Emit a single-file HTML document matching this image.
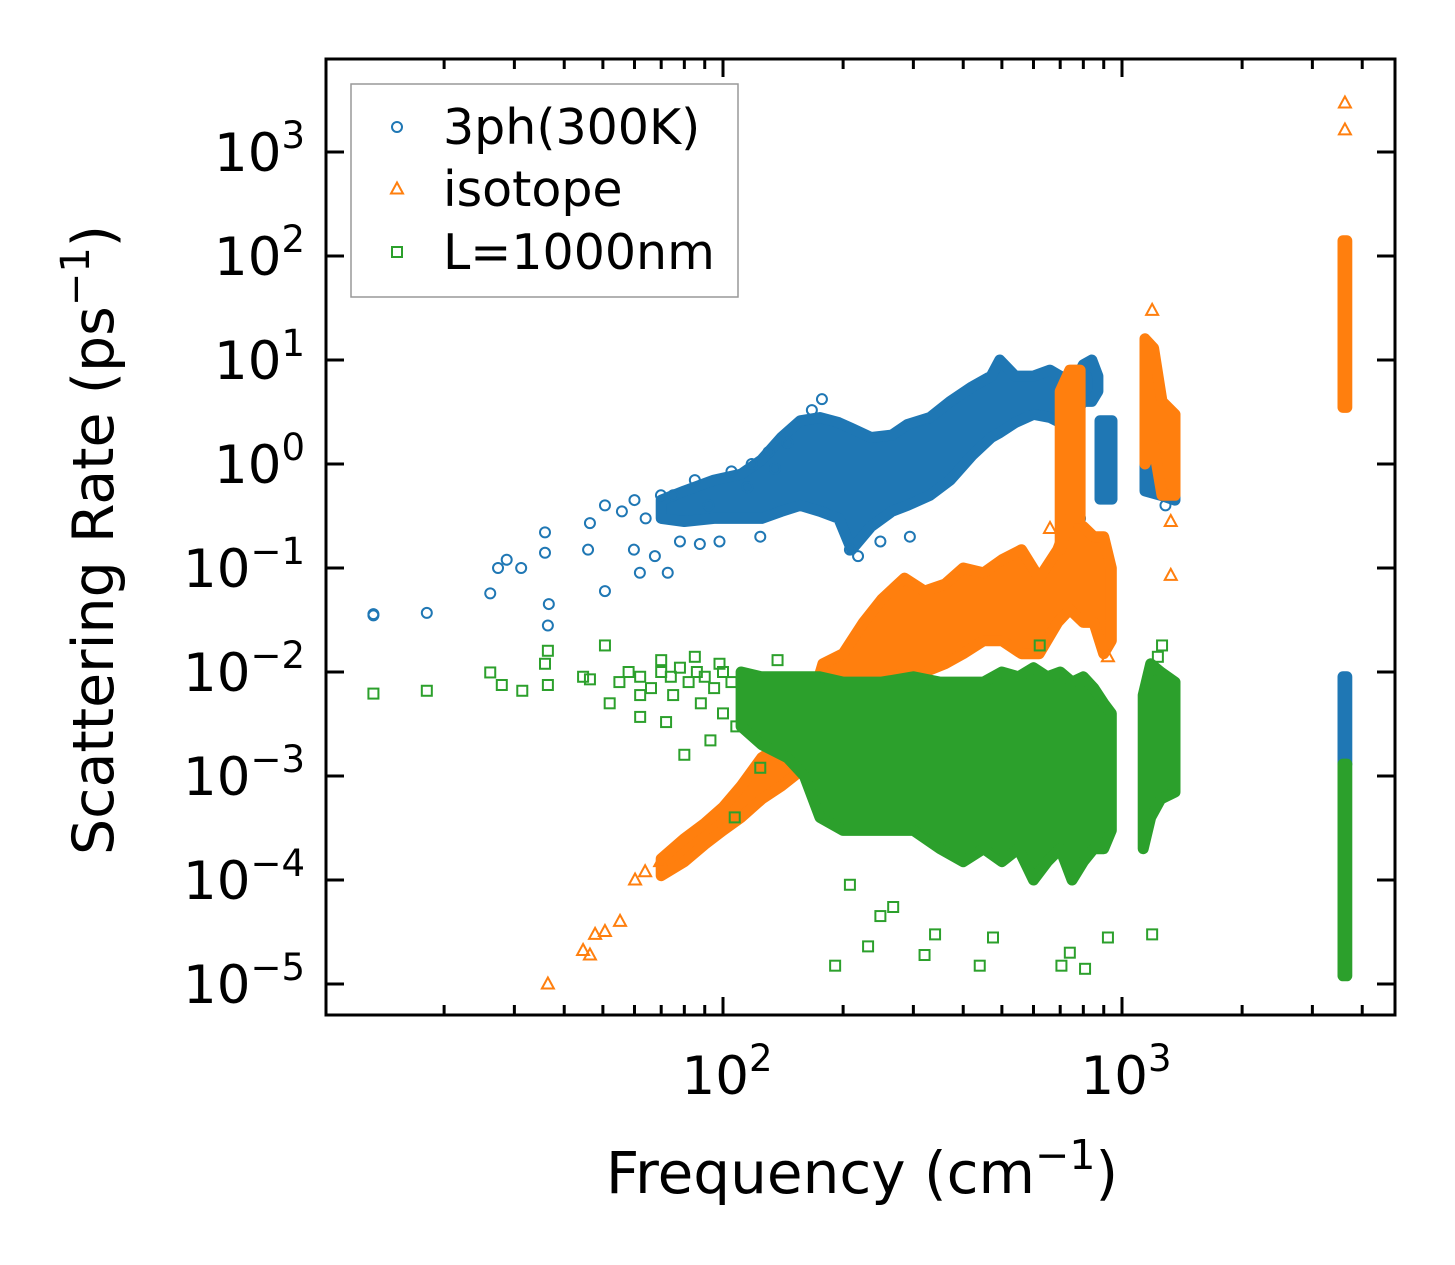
<!DOCTYPE html>
<html><head><meta charset="utf-8">
<style>
html,body{margin:0;padding:0;background:#fff;}
svg{display:block;font-family:"DejaVu Sans","Liberation Sans",sans-serif;}
</style></head>
<body>
<svg id="chart" width="1455" height="1265" viewBox="0 0 1455 1265" xmlns="http://www.w3.org/2000/svg">
<rect x="0" y="0" width="1455" height="1265" fill="#fff"/>
<g id="marks"></g>
<g id="axes"></g>
</svg>
<script>
// ---- data (frequency cm^-1, scattering rate ps^-1) ----
const xTickValues = [100, 1000];
const xTickExps = ["2", "3"];
const yTickExps = [-5, -4, -3, -2, -1, 0, 1, 2, 3];
const seriesNames = ["3ph(300K)", "isotope", "L=1000nm"];

const bluePoints = [[13.3,0.036],[13.3,0.035],[18.1,0.037],[26.1,0.057],[27.3,0.1],[28.7,0.12],[31.2,0.1],[35.8,0.22],[35.8,0.14],[36.6,0.045],[36.4,0.028],[45.9,0.15],[46.4,0.27],[50.6,0.4],[50.6,0.06],[55.8,0.35],[59.8,0.15],[61.9,0.09],[67.5,0.13],[72.7,0.09],[69.9,0.5],[78,0.18],[87.5,0.17],[98,0.18],[124,0.2],[177,4.2],[167,3.3],[208,0.15],[218,0.13],[248,0.18],[294,0.2],[785,0.3],[770,0.4],[1285,0.4],[60,0.45],[64,0.3],[75,0.5],[85,0.7],[92,0.4],[105,0.85],[115,0.6],[118,1.0],[130,1.3],[135,0.9],[145,1.6]];
const blueBands = [
 [[70,0.3,0.45],[80,0.28,0.55],[95,0.3,0.7],[111,0.3,0.8],[125,0.3,1.1],[140,0.35,1.8],[156,0.4,2.6],[175,0.35,2.8],[195,0.3,2.5],[210,0.15,2.2],[235,0.25,1.8],[265,0.35,1.9],[290,0.4,2.4],[330,0.5,2.8],[371,0.7,4],[420,1.2,5.5],[470,1.8,7],[494,2,10],[540,2.5,7],[600,3,7],[660,2.8,8],[700,2.5,7],[760,3,6],[800,4,9],[840,4,10],[870,5,7]],
 [[881,0.46,2.6],[944,0.46,2.6]],
 [[1142,0.55,1.1],[1250,0.5,1.0],[1358,0.45,0.9]],
 [[3580,0.0013,0.009],[3660,0.0013,0.009]]
];

const orangePoints = [[36.4,1e-5],[44.6,2.1e-5],[46.4,1.9e-5],[47.8,3e-5],[50.6,3.2e-5],[55.2,4e-5],[60.2,1e-4],[63.8,1.2e-4],[69.6,1.5e-4],[1190,30],[1325,0.28],[1325,0.085],[922,0.014],[660,0.24],[3620,2960],[3620,1630]];
const orangeBands = [
 [[70,1.1e-4,1.6e-4],[80,1.5e-4,2.5e-4],[90,2.2e-4,3.5e-4],[100,3e-4,5e-4],[111,4e-4,8e-4],[125,6e-4,1.5e-3],[140,8e-4,2e-3],[160,1.2e-3,3e-3],[178,3e-3,0.012],[200,0.005,0.015],[225,0.006,0.03],[250,0.008,0.05],[285,0.01,0.08],[320,0.01,0.06],[360,0.012,0.07],[400,0.015,0.1],[450,0.02,0.09],[500,0.02,0.12],[560,0.015,0.15],[620,0.015,0.08],[690,0.03,0.15],[740,0.04,0.3],[800,0.03,0.25],[850,0.03,0.2],[900,0.015,0.2],[940,0.02,0.1]],
 [[700,0.15,5],[740,0.3,8],[785,0.3,8]],
 [[1142,1,16],[1200,1.5,13],[1260,0.5,4],[1358,0.5,3]],
 [[3580,3.5,140],[3660,3.5,140]]
];

const greenPoints = [[13.3,0.0062],[18.1,0.0066],[26.1,0.0099],[27.9,0.0075],[31.4,0.0066],[35.8,0.012],[36.4,0.016],[36.4,0.0075],[44.6,0.009],[46.4,0.0085],[50.6,0.018],[52,0.005],[62,0.0037],[72,0.0033],[80,0.0016],[93,0.0022],[107,0.0004],[124,0.0012],[191,1.5e-5],[208,9e-5],[231,2.3e-5],[248,4.5e-5],[267,5.5e-5],[320,1.9e-5],[340,3e-5],[440,1.5e-5],[475,2.8e-5],[705,1.5e-5],[808,1.4e-5],[740,2e-5],[922,2.8e-5],[1190,3e-5],[1260,0.018],[1230,0.014],[622,0.018],[137,0.013],[55,0.008],[58,0.01],[62,0.009],[66,0.007],[70,0.01],[74,0.009],[78,0.011],[82,0.008],[86,0.01],[90,0.009],[95,0.007],[100,0.01],[105,0.008],[62,0.006],[75,0.006],[88,0.005],[100,0.004],[108,0.003],[70,0.013],[85,0.014],[98,0.012]];
const greenBands = [
 [[111,0.003,0.01],[125,0.002,0.009],[145,0.0015,0.009],[160,0.001,0.009],[175,0.0004,0.009],[200,0.0003,0.008],[250,0.0003,0.008],[300,0.0003,0.009],[350,0.0002,0.008],[400,0.00015,0.008],[450,0.0002,0.008],[500,0.00015,0.01],[550,0.0002,0.009],[600,0.0001,0.011],[650,0.00015,0.009],[700,0.0002,0.01],[750,0.0001,0.008],[800,0.00015,0.009],[850,0.0002,0.007],[900,0.0002,0.005],[940,0.0003,0.004]],
 [[1130,0.0002,0.006],[1180,0.0004,0.012],[1250,0.0006,0.01],[1358,0.0007,0.008]],
 [[3580,1.2e-5,0.0013],[3660,1.2e-5,0.0013]]
];

// ---- scales ----
const PL=326, PR=1395, PT=59, PB=1015;
function X(f){ return 723 + 399*(Math.log10(f)-2); }
function Y(r){ return 152 - 104*(Math.log10(r)-3); }

const NS="http://www.w3.org/2000/svg";
const marks=document.getElementById('marks');
const axes=document.getElementById('axes');
function mk(tag, attrs, parent){
  const e=document.createElementNS(NS,tag);
  for(const k in attrs) e.setAttribute(k, attrs[k]);
  parent.appendChild(e); return e;
}
function marker(kind, x, y, color, parent){
  let e;
  if(kind==='circle'){ e=mk('circle',{cx:x,cy:y,r:5,fill:'none',stroke:color,'stroke-width':2},parent); }
  else if(kind==='tri'){ e=mk('polygon',{points:`${x},${y-6.5} ${x-6},${y+4.5} ${x+6},${y+4.5}`,fill:'none',stroke:color,'stroke-width':2},parent); }
  else { e=mk('rect',{x:x-5,y:y-5,width:10,height:10,fill:'none',stroke:color,'stroke-width':2},parent); }
  return e;
}
const series=[
  {name:'3ph', color:'#1f77b4', kind:'circle', pts:bluePoints, bands:blueBands},
  {name:'isotope', color:'#ff7f0e', kind:'tri', pts:orangePoints, bands:orangeBands},
  {name:'l1000nm', color:'#2ca02c', kind:'square', pts:greenPoints, bands:greenBands}
];
series.forEach(s=>{
  const g=mk('g',{},marks);
  
  
  s.bands.forEach(seg=>{
    const top=seg.map(b=>`${X(b[0]).toFixed(1)},${Y(b[2]).toFixed(1)}`);
    const bot=seg.slice().reverse().map(b=>`${X(b[0]).toFixed(1)},${Y(b[1]).toFixed(1)}`);
    const p=mk('polygon',{points:top.concat(bot).join(' '),fill:s.color,stroke:s.color,'stroke-width':11,'stroke-linejoin':'round'},g);
    
    
  });
  s.pts.forEach(p=>{
    const m=marker(s.kind, X(p[0]), Y(p[1]), s.color, g);
    
    
  });
});

// ---- axes frame ----
const frame=mk('rect',{x:PL,y:PT,width:PR-PL,height:PB-PT,fill:'none',stroke:'#000','stroke-width':3},axes);



// y ticks & labels
yTickExps.forEach(e=>{
  const y=Y(Math.pow(10,e));
  mk('line',{x1:PL,y1:y,x2:PL+18,y2:y,stroke:'#000','stroke-width':3},axes);
  mk('line',{x1:PR,y1:y,x2:PR-18,y2:y,stroke:'#000','stroke-width':3},axes);
  const t=mk('text',{x:305,y:y+19,'text-anchor':'end','font-size':53,fill:'#000'},axes);
  
  
  t.appendChild(document.createTextNode('10'));
  const sup=mk('tspan',{dy:-23,'font-size':37},t);
  sup.textContent=(e<0?'\u2212'+(-e):String(e));
});
// x ticks: majors and minors
for(let d=1; d<=3; d++){
  for(let m=1;m<=9;m++){
    const f=m*Math.pow(10,d);
    const x=X(f);
    if(x<=PL+1||x>=PR-1) continue;
    const len=(m===1)?18:10;
    mk('line',{x1:x,y1:PB,x2:x,y2:PB-len,stroke:'#000','stroke-width':3},axes);
    mk('line',{x1:x,y1:PT,x2:x,y2:PT+len,stroke:'#000','stroke-width':3},axes);
  }
}
xTickValues.forEach((v,i)=>{
  const t=mk('text',{x:X(v)+4,y:1094,'text-anchor':'middle','font-size':53,fill:'#000'},axes);
  
  
  t.appendChild(document.createTextNode('10'));
  const sup=mk('tspan',{dy:-23,'font-size':37},t);
  sup.textContent=xTickExps[i];
});
// axis titles
const xt=mk('text',{x:862,y:1193,'text-anchor':'middle','font-size':58,fill:'#000'},axes);


xt.appendChild(document.createTextNode('Frequency (cm'));
mk('tspan',{dy:-24,'font-size':41},xt).textContent='\u22121';
mk('tspan',{dy:24},xt).textContent=')';
const yt=mk('text',{x:0,y:0,transform:'translate(113,540) rotate(-90)','text-anchor':'middle','font-size':57,fill:'#000'},axes);


yt.appendChild(document.createTextNode('Scattering Rate (ps'));
mk('tspan',{dy:-24,'font-size':40},yt).textContent='\u22121';
mk('tspan',{dy:24},yt).textContent=')';

// legend
const lg=mk('g',{},axes);


mk('rect',{x:351,y:84,width:387,height:213,fill:'#fff','fill-opacity':0.8,stroke:'#999','stroke-width':1.5},lg);
const legY=[127,189,252];
series.forEach((s,i)=>{
  const m=marker(s.kind,397,legY[i],s.color,lg);
  
  
  const t=mk('text',{x:443,y:legY[i]+17,'font-size':49,fill:'#000'},lg);
  
  
  t.textContent=seriesNames[i];
});
</script>
</body></html>
